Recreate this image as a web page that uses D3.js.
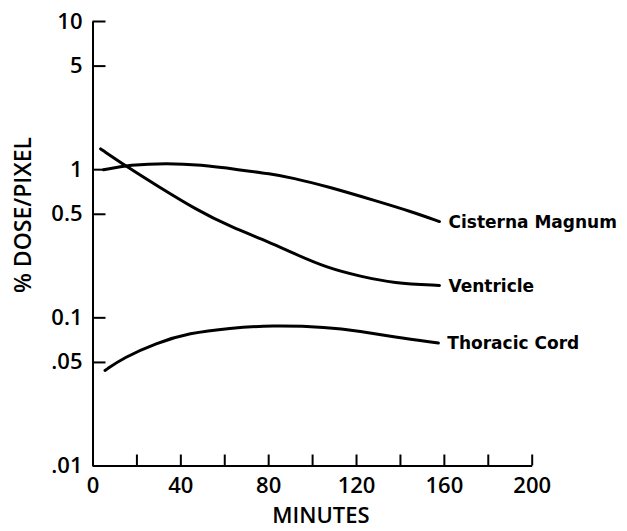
<!DOCTYPE html>
<html>
<head>
<meta charset="utf-8">
<script src="https://cdn.jsdelivr.net/npm/d3@7"></script>
<style>
  body { margin: 0; background: #fff; }
  svg { display: block; }
  .axis path, .axis line { stroke: #000; stroke-width: 2px; }
  .axis text { font-family: "Open Sans", sans-serif; font-weight: 600; font-size: 22px; fill: #000; }
  .title { font-family: "Open Sans", sans-serif; font-weight: 600; fill: #000; }
  .curve { fill: none; stroke: #000; stroke-width: 3px; stroke-linecap: round; }
  .label { font-family: "DejaVu Sans", sans-serif; font-weight: bold; font-size: 17px; fill: #000; }
</style>
</head>
<body>
<div id="chart"></div>
<script>
// data (minutes, % dose/pixel)
var cisternaMinutes = [5, 17, 34, 49, 67, 81, 91, 107, 130, 145, 158];
var cisternaDose    = [0.99, 1.07, 1.10, 1.07, 0.99, 0.93, 0.874, 0.764, 0.605, 0.518, 0.443];

var ventricleMinutes = [3.7, 15.6, 29, 47.5, 62.6, 81, 91, 107, 122, 137, 158];
var ventricleDose    = [1.37, 1.04, 0.78, 0.53, 0.41, 0.32, 0.272, 0.215, 0.189, 0.170, 0.164];

var thoracicMinutes = [5.7, 14, 29, 44, 62.6, 81, 107, 122, 137, 157.5];
var thoracicDose    = [0.0438, 0.0532, 0.0671, 0.0784, 0.0847, 0.0882, 0.0861, 0.0804, 0.0736, 0.0671];

var seriesNames = ["Cisterna Magnum", "Ventricle", "Thoracic Cord"];

var xTicks = [0, 20, 40, 60, 80, 100, 120, 140, 160, 180, 200];
var yTicks = [10, 5, 1, 0.5, 0.1, 0.05, 0.01];
var yTickLabels = ["10", "5", "1", "0.5", "0.1", ".05", ".01"];

var width = 627, height = 531;

var svg = d3.select("#chart").append("svg")
    .attr("width", width)
    .attr("height", height);

var x = d3.scaleLinear().domain([0, 200]).range([92.5, 531.7]);
var y = d3.scaleLog().domain([0.01, 10]).range([465.5, 21]);

// x axis, ticks pointing up, labels every 40
svg.append("g")
    .attr("class", "axis")
    .attr("transform", "translate(0," + y(0.01) + ")")
    .call(d3.axisBottom(x)
        .tickValues(xTicks)
        .tickSizeInner(-11)
        .tickSizeOuter(0)
        .tickPadding(12)
        .tickFormat(function (d) { return d % 40 === 0 ? d : ""; }));

// y axis, ticks pointing right
svg.append("g")
    .attr("class", "axis")
    .attr("transform", "translate(" + x(0) + ",0)")
    .call(d3.axisLeft(y)
        .tickValues(yTicks)
        .tickSizeInner(-13)
        .tickSizeOuter(0)
        .tickPadding(10)
        .tickFormat(function (d, i) { return yTickLabels[i]; }));

// axis titles
svg.append("text")
    .attr("class", "title")
    .attr("x", 321)
    .attr("y", 523)
    .attr("text-anchor", "middle")
    .style("font-size", "22px")
    .text("MINUTES");

svg.append("text")
    .attr("class", "title")
    .attr("transform", "translate(31,215) rotate(-90)")
    .attr("text-anchor", "middle")
    .style("font-size", "23px")
    .text("% DOSE/PIXEL");

var line = d3.line()
    .x(function (d) { return x(d[0]); })
    .y(function (d) { return y(d[1]); })
    .curve(d3.curveBasis);

var series = [
    d3.zip(cisternaMinutes, cisternaDose),
    d3.zip(ventricleMinutes, ventricleDose),
    d3.zip(thoracicMinutes, thoracicDose)
];

series.forEach(function (pts, i) {
    svg.append("path")
        .attr("class", "curve")
        .attr("d", line(pts));

    var last = pts[pts.length - 1];
    svg.append("text")
        .attr("class", "label")
        .attr("x", x(last[0]) + 9)
        .attr("y", y(last[1]))
        .attr("dy", "0.36em")
        .text(seriesNames[i]);
});
</script>
</body>
</html>
